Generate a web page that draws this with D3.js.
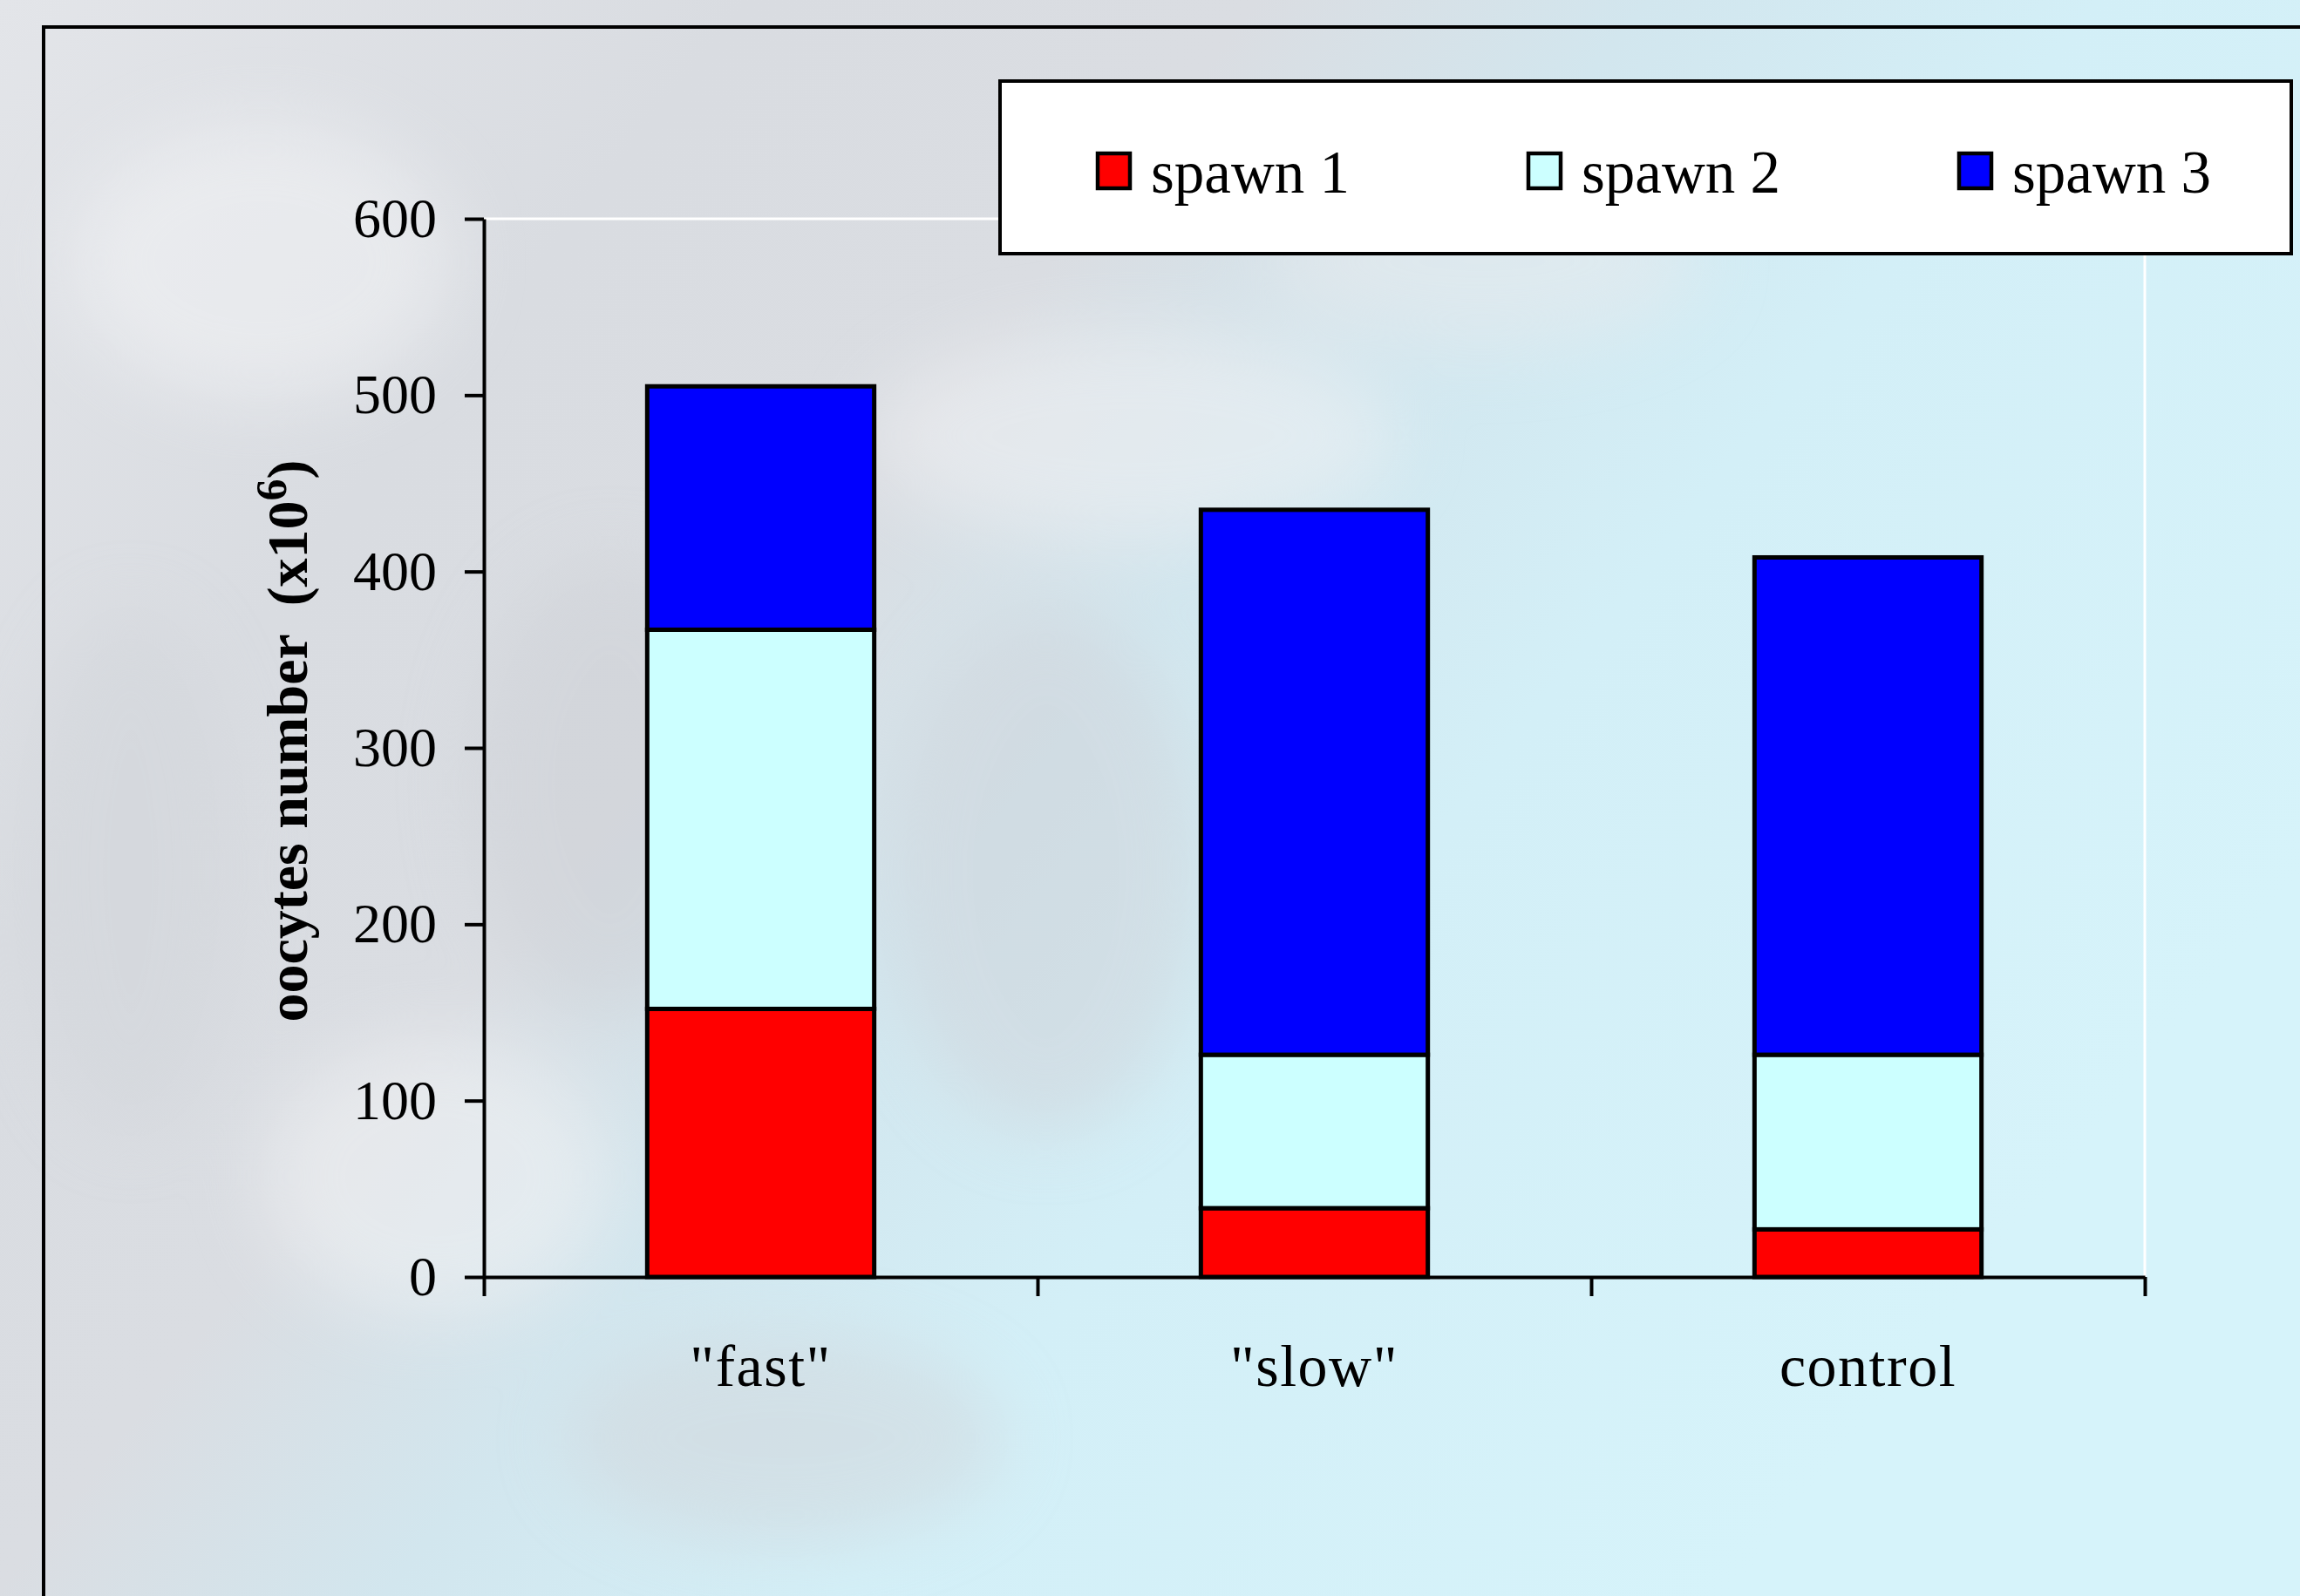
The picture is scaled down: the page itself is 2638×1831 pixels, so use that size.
<!DOCTYPE html>
<html>
<head>
<meta charset="utf-8">
<script src="https://cdn.jsdelivr.net/npm/d3@7/dist/d3.min.js"></script>
<style>
  html, body { margin: 0; padding: 0; background: #dfe2e6; }
  svg { display: block; }
  text { font-family: "Liberation Serif", "Times New Roman", serif; fill: #000; }
</style>
</head>
<body>
<script>
const categories = ['"fast"', '"slow"', 'control'];
const seriesNames = ['spawn 1', 'spawn 2', 'spawn 3'];
const spawn1 = [152, 39, 27];
const spawn2 = [215, 87, 99];
const spawn3 = [138, 309, 282];
const yTicks = [0, 100, 200, 300, 400, 500, 600];
const seriesColors = ['#ff0000', '#ccffff', '#0000ff'];

const W = 2638, H = 1831;
const plot = { left: 555, right: 2460, top: 251, bottom: 1465 };

const svg = d3.select('body').append('svg').attr('width', W).attr('height', H);

// background
const defs = svg.append('defs');
const grad = defs.append('linearGradient').attr('id', 'bg')
  .attr('x1', '0').attr('y1', '0').attr('x2', '1').attr('y2', '0.55');
[[0, '#e3e5e9'], [0.25, '#d9dce1'], [0.42, '#dadde2'], [0.55, '#d2e6ee'], [0.7, '#d3eff7'], [1, '#d6f3fa']]
  .forEach(([o, c]) => grad.append('stop').attr('offset', o).attr('stop-color', c));
const blur = defs.append('filter').attr('id', 'blur').attr('x', '-50%').attr('y', '-50%').attr('width', '200%').attr('height', '200%');
blur.append('feGaussianBlur').attr('stdDeviation', 40);
svg.append('rect').attr('width', W).attr('height', H).attr('fill', 'url(#bg)');
const tex = svg.append('g').attr('filter', 'url(#blur)').attr('opacity', 0.5);
[[300, 300, 220, 160, '#f4f5f7'], [700, 900, 160, 260, '#cdd0d6'], [1300, 500, 300, 120, '#f1f2f4'],
 [500, 1350, 200, 160, '#f3f4f6'], [1200, 1000, 180, 300, '#d0d3d9'], [150, 1000, 120, 300, '#d2d5da'],
 [1700, 300, 250, 100, '#e9ebee'], [900, 1650, 250, 120, '#d2d5da']]
  .forEach(([cx, cy, rx, ry, c]) => tex.append('ellipse').attr('cx', cx).attr('cy', cy).attr('rx', rx).attr('ry', ry).attr('fill', c));

// outer frame
svg.append('rect').attr('x', 50).attr('y', 31).attr('width', 3000).attr('height', 3000)
  .attr('fill', 'none').attr('stroke', '#000').attr('stroke-width', 4);

// scales
const x = d3.scaleBand().domain(categories).range([plot.left, plot.right])
  .paddingInner(0.59).paddingOuter(0.295);
const xEdge = d3.scaleLinear().domain([0, categories.length]).range([plot.left, plot.right]);
const y = d3.scaleLinear().domain([0, 600]).range([plot.bottom, plot.top]);

// plot area white border (top and right)
svg.append('path')
  .attr('d', `M${plot.left},${y(600)}H${plot.right}V${y(0)}`)
  .attr('fill', 'none').attr('stroke', '#ffffff').attr('stroke-width', 3);

// stacked bars
const table = categories.map((c, i) => ({ cat: c, s0: spawn1[i], s1: spawn2[i], s2: spawn3[i] }));
const stack = d3.stack().keys(['s0', 's1', 's2'])(table);
const gBars = svg.append('g');
stack.forEach((layer, li) => {
  gBars.selectAll(null).data(layer).enter().append('rect')
    .attr('x', d => x(d.data.cat))
    .attr('width', x.bandwidth())
    .attr('y', d => y(d[1]))
    .attr('height', d => y(d[0]) - y(d[1]))
    .attr('fill', seriesColors[li])
    .attr('stroke', '#000').attr('stroke-width', 5);
});

// y axis
const yAxis = svg.append('g').attr('transform', `translate(${plot.left},0)`)
  .call(d3.axisLeft(y).tickValues(yTicks).tickSize(22).tickPadding(32).tickSizeOuter(0));
yAxis.select('.domain').attr('stroke', '#000').attr('stroke-width', 4);
yAxis.selectAll('.tick line').attr('stroke', '#000').attr('stroke-width', 4);
yAxis.selectAll('.tick text').attr('font-family', '"Liberation Serif", serif').attr('font-size', 64).attr('fill', '#000');

// x axis (ticks at category boundaries)
const xAxis = svg.append('g').attr('transform', `translate(0,${plot.bottom})`)
  .call(d3.axisBottom(xEdge).tickValues(d3.range(categories.length + 1)).tickSize(22).tickSizeOuter(0).tickFormat(''));
xAxis.select('.domain').attr('stroke', '#000').attr('stroke-width', 4);
xAxis.selectAll('.tick line').attr('stroke', '#000').attr('stroke-width', 4);

// category labels
svg.append('g').selectAll('text').data(categories).enter().append('text')
  .attr('x', d => x(d) + x.bandwidth() / 2)
  .attr('y', 1590)
  .attr('text-anchor', 'middle')
  .attr('font-size', 68)
  .attr('letter-spacing', 1.5)
  .text(d => d);

// y axis title
const yt = svg.append('text')
  .attr('transform', 'translate(352,850) rotate(-90)')
  .attr('text-anchor', 'middle')
  .attr('font-size', 66)
  .attr('font-weight', 'bold')
  .style('white-space', 'pre');
yt.append('tspan').text('oocytes number  (x10');
yt.append('tspan').attr('font-size', 50).attr('dy', -24).text('6');
yt.append('tspan').attr('dy', 24).text(')');

// legend
const lg = svg.append('g');
lg.append('rect').attr('x', 1147).attr('y', 93).attr('width', 1481).attr('height', 198)
  .attr('fill', '#ffffff').attr('stroke', '#000').attr('stroke-width', 4);
const legendX = [1259, 1753, 2247];
seriesNames.forEach((name, i) => {
  lg.append('rect').attr('x', legendX[i]).attr('y', 176).attr('width', 37).attr('height', 40)
    .attr('fill', seriesColors[i]).attr('stroke', '#000').attr('stroke-width', 4.5);
  lg.append('text').attr('x', legendX[i] + 61).attr('y', 221)
    .attr('font-size', 69).text(name);
});
</script>
</body>
</html>
